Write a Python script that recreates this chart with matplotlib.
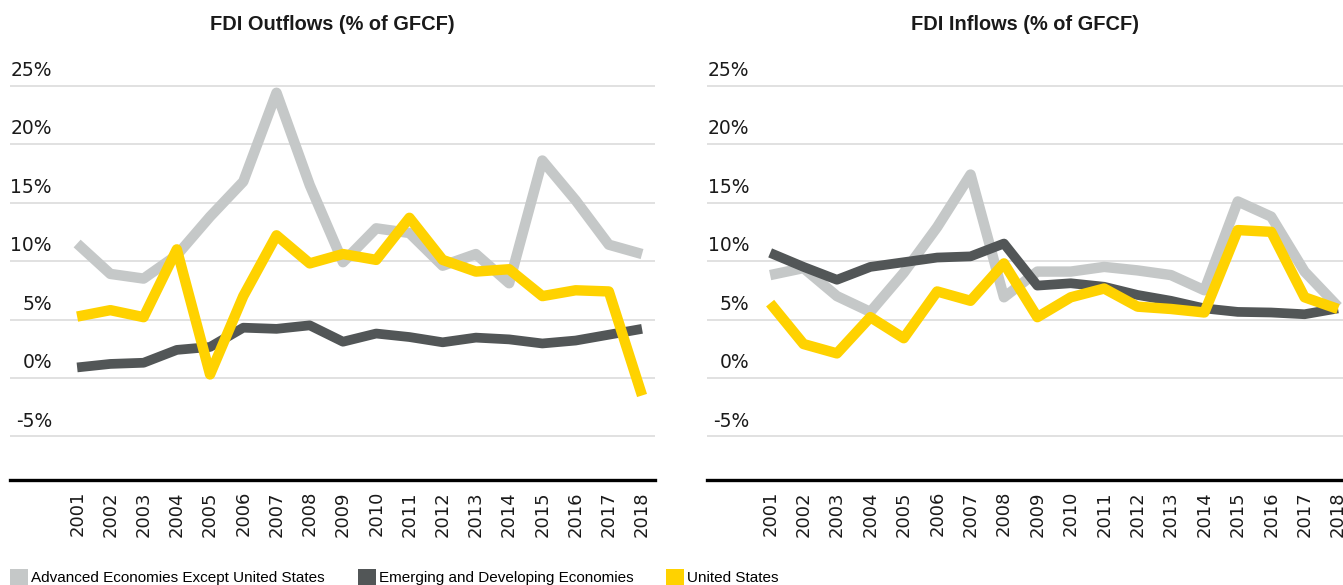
import matplotlib
matplotlib.use("Agg")
import matplotlib.pyplot as plt
from matplotlib.patches import Patch
from matplotlib.transforms import blended_transform_factory

years = list(range(2001, 2019))

# FDI Outflows (% of GFCF)
out_advanced = [11.5, 8.9, 8.5, 10.5, 13.8, 16.8, 24.4, 16.5, 9.9, 12.8, 12.4, 9.6, 10.6, 8.1, 18.6, 15.2, 11.4, 10.6]
out_emerging = [0.9, 1.2, 1.3, 2.4, 2.65, 4.3, 4.2, 4.5, 3.1, 3.8, 3.5, 3.05, 3.45, 3.3, 2.95, 3.2, 3.7, 4.2]
out_us = [5.25, 5.8, 5.2, 11.0, 0.3, 7.0, 12.2, 9.8, 10.6, 10.1, 13.7, 10.1, 9.1, 9.3, 7.0, 7.5, 7.4, -1.5]

# FDI Inflows (% of GFCF)
in_advanced = [8.8, 9.4, 7.0, 5.65, 9.0, 12.9, 17.4, 6.9, 9.1, 9.1, 9.5, 9.2, 8.8, 7.5, 15.1, 13.8, 9.1, 6.1]
in_emerging = [10.7, 9.5, 8.4, 9.5, 9.9, 10.3, 10.4, 11.5, 7.9, 8.1, 7.8, 7.1, 6.6, 5.95, 5.65, 5.6, 5.45, 5.95]
in_us = [6.4, 2.9, 2.1, 5.2, 3.4, 7.4, 6.6, 9.8, 5.2, 6.9, 7.65, 6.1, 5.9, 5.6, 12.65, 12.5, 6.9, 5.9]

ytick_vals = [-5, 0, 5, 10, 15, 20, 25]
ytick_labels = ["-5%", "0%", "5%", "10%", "15%", "20%", "25%"]
titles = ["FDI Outflows (% of GFCF)", "FDI Inflows (% of GFCF)"]
series_names = ["Advanced Economies Except United States",
                "Emerging and Developing Economies",
                "United States"]

c_adv = "#C5C8C8"
c_em = "#525657"
c_us = "#FFD200"
grid_c = "#DCDCDC"

W, H = 1343, 585
fig = plt.figure(figsize=(W / 100, H / 100), dpi=100)

def px_axes(x0, x1, ytop, ybot):
    return fig.add_axes([x0 / W, (H - ybot) / H, (x1 - x0) / W, (ybot - ytop) / H])

panels = [
    (px_axes(10, 655, 60, 480), (1998.98, 2018.39), 645, out_advanced, out_emerging, out_us),
    (px_axes(707, 1343, 60, 480), (1999.11, 2018.15), 636, in_advanced, in_emerging, in_us),
]

for i, (ax, xl, wpx, adv, em, us) in enumerate(panels):
    ax.set_xlim(*xl)
    ax.set_ylim(-8.73, 27.2)
    ax.set_yticks(ytick_vals)
    ax.set_yticklabels([])
    ax.tick_params(axis="y", length=0)
    ax.grid(axis="y", color=grid_c, linewidth=1.2, zorder=0)
    ax.set_axisbelow(True)
    kw = dict(solid_joinstyle="round", solid_capstyle="butt")
    ax.plot(years, adv, color=c_adv, linewidth=7.5, zorder=2, **kw)
    ax.plot(years, em, color=c_em, linewidth=7.0, zorder=3, **kw)
    ax.plot(years, us, color=c_us, linewidth=7.5, zorder=4, **kw)
    for s in ["top", "right", "left"]:
        ax.spines[s].set_visible(False)
    ax.spines["bottom"].set_color("black")
    ax.spines["bottom"].set_linewidth(2.4)
    ax.set_xticks(years)
    ax.set_xticklabels([str(y) for y in years], rotation=90, fontsize=13,
                       family="DejaVu Sans", color="#1a1a1a")
    ax.tick_params(axis="x", length=0, pad=8)
    tr = blended_transform_factory(ax.transAxes, ax.transData)
    for v, lab in zip(ytick_vals, ytick_labels):
        ax.text(42 / wpx, v + 1.3, lab,
                transform=tr, ha="right", va="center", fontsize=13.5,
                family="DejaVu Sans", color="#1a1a1a")
    ax.set_title(titles[i], fontsize=14.4, fontweight="bold", family="Liberation Sans",
                 color="#1a1a1a", pad=0, y=(480 - 25) / 420, va="center")

handles = [Patch(facecolor=c_adv, edgecolor="none"),
           Patch(facecolor=c_em, edgecolor="none"),
           Patch(facecolor=c_us, edgecolor="none")]
fig.legend(handles, series_names, loc="center left",
           bbox_to_anchor=(10 / W, (H - 577) / H), ncol=3, frameon=False,
           prop={"family": "Liberation Sans", "size": 11},
           handlelength=1.18, handleheight=1.18, handletextpad=0.2,
           columnspacing=2.15, borderpad=0, borderaxespad=0)

fig.savefig("out.png", dpi=100)
